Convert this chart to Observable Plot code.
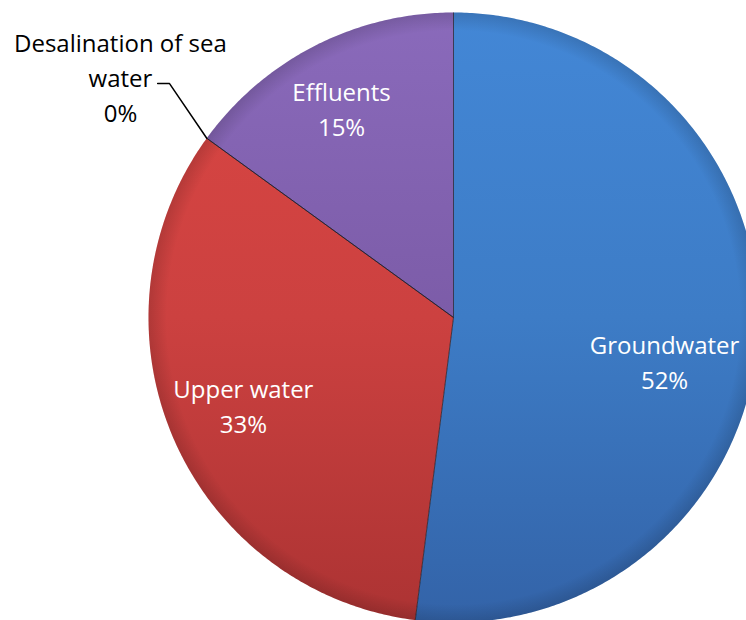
<!DOCTYPE html>
<html><head><meta charset="utf-8">
<script src="https://cdn.jsdelivr.net/npm/d3@7"></script>
<script src="https://cdn.jsdelivr.net/npm/@observablehq/plot@0.6"></script>
<style>body{margin:0;background:#fff;overflow:hidden}</style>
</head><body><div id="chart"></div>
<script>
// ---- data ----
const categories = ["Groundwater", "Upper water", "Desalination of sea water", "Effluents"];
const values = [52, 33, 0, 15];
const pctLabels = ["52%", "33%", "0%", "15%"];
const labelNames = ["Groundwater", "Upper water", "Desalination of sea\nwater", "Effluents"];

// ---- styles / label placement (fractions of pie radius) ----
const gradStops = [
  ["#4387d6", "#3d7cc6", "#3363a8"],
  ["#da4643", "#cc4140", "#ac3333"],
  ["#9a7fc7", "#8a6bb4", "#6a4e92"],
  ["#8a6abb", "#7c5ca8", "#6a4e92"]
];
const labelColor = ["#ffffff", "#ffffff", "#000000", "#ffffff"];
const labelX = [0.692, -0.689, -1.092, -0.367];
const labelY = [-0.141, -0.285, 0.793, 0.689];
const leaderX = [-0.970, -0.931];
const leaderY = [0.767, 0.767];

const pie = d3.pie().sort(null).value(d => d.value).startAngle(0).endAngle(2 * Math.PI);
const slices = pie(categories.map((c, i) => ({cat: c, value: values[i], i})));

const pt = a => ({x: Math.sin(a), y: Math.cos(a)});
const slicePolys = slices.map(s => {
  const pts = [{x: 0, y: 0}];
  const n = Math.max(2, Math.ceil((s.endAngle - s.startAngle) / (Math.PI / 360)));
  for (let k = 0; k <= n; k++) pts.push(pt(s.startAngle + (s.endAngle - s.startAngle) * k / n));
  pts.push({x: 0, y: 0});
  return pts;
});
const boundaries = slices.map(s => pt(s.startAngle));

const labels = slices.map((s, i) => ({
  x: labelX[i], y: labelY[i],
  text: labelNames[i] + "\n" + pctLabels[i],
  color: labelColor[i]
}));

const desal = slices[2];
const edge = pt(desal.startAngle);
const leader = [{x: leaderX[0], y: leaderY[0]}, {x: leaderX[1], y: leaderY[1]}, {x: edge.x, y: edge.y}];

const marks = [];
slicePolys.forEach((pts, i) => {
  if (slices[i].value > 0) marks.push(Plot.line(pts, {x: "x", y: "y", fill: `url(#g${i})`, stroke: "none"}));
});
// subtle bevel at rim
marks.push(Plot.line(d3.range(0, 361, 1).map(d => pt(d * Math.PI / 180)), {x: "x", y: "y", fill: "url(#rim)", stroke: "none"}));
marks.push(Plot.link(boundaries, {x1: 0, y1: 0, x2: "x", y2: "y", stroke: "#1d1d2a", strokeWidth: 1, strokeOpacity: 0.75}));
marks.push(Plot.line(leader, {x: "x", y: "y", stroke: "#000", strokeWidth: 1.5}));
marks.push(Plot.text(labels, {
  x: "x", y: "y", text: "text", fill: "color",
  fontSize: 24, fontFamily: "Open Sans", lineHeight: 1.45, textAnchor: "middle"
}));

const plot = Plot.plot({
  width: 746, height: 620, margin: 0,
  x: {domain: [-1, 1], range: [148, 758], axis: null},
  y: {domain: [-1, 1], range: [622, 12], axis: null},
  style: {background: "#fff", overflow: "hidden"},
  marks
});

// gradients
const svg = d3.select(plot);
const defs = svg.insert("defs", ":first-child");
gradStops.forEach((stops, i) => {
  const g = defs.append("linearGradient").attr("id", `g${i}`)
    .attr("gradientUnits", "userSpaceOnUse")
    .attr("x1", 0).attr("y1", 12).attr("x2", 0).attr("y2", 622);
  g.append("stop").attr("offset", "0%").attr("stop-color", stops[0]);
  g.append("stop").attr("offset", "50%").attr("stop-color", stops[1]);
  g.append("stop").attr("offset", "100%").attr("stop-color", stops[2]);
});
const rim = defs.append("radialGradient").attr("id", "rim")
  .attr("gradientUnits", "userSpaceOnUse").attr("cx", 453).attr("cy", 317).attr("r", 305);
rim.append("stop").attr("offset", "94%").attr("stop-color", "#000").attr("stop-opacity", 0);
rim.append("stop").attr("offset", "100%").attr("stop-color", "#000").attr("stop-opacity", 0.14);
document.getElementById("chart").appendChild(plot);
</script>
</body></html>
